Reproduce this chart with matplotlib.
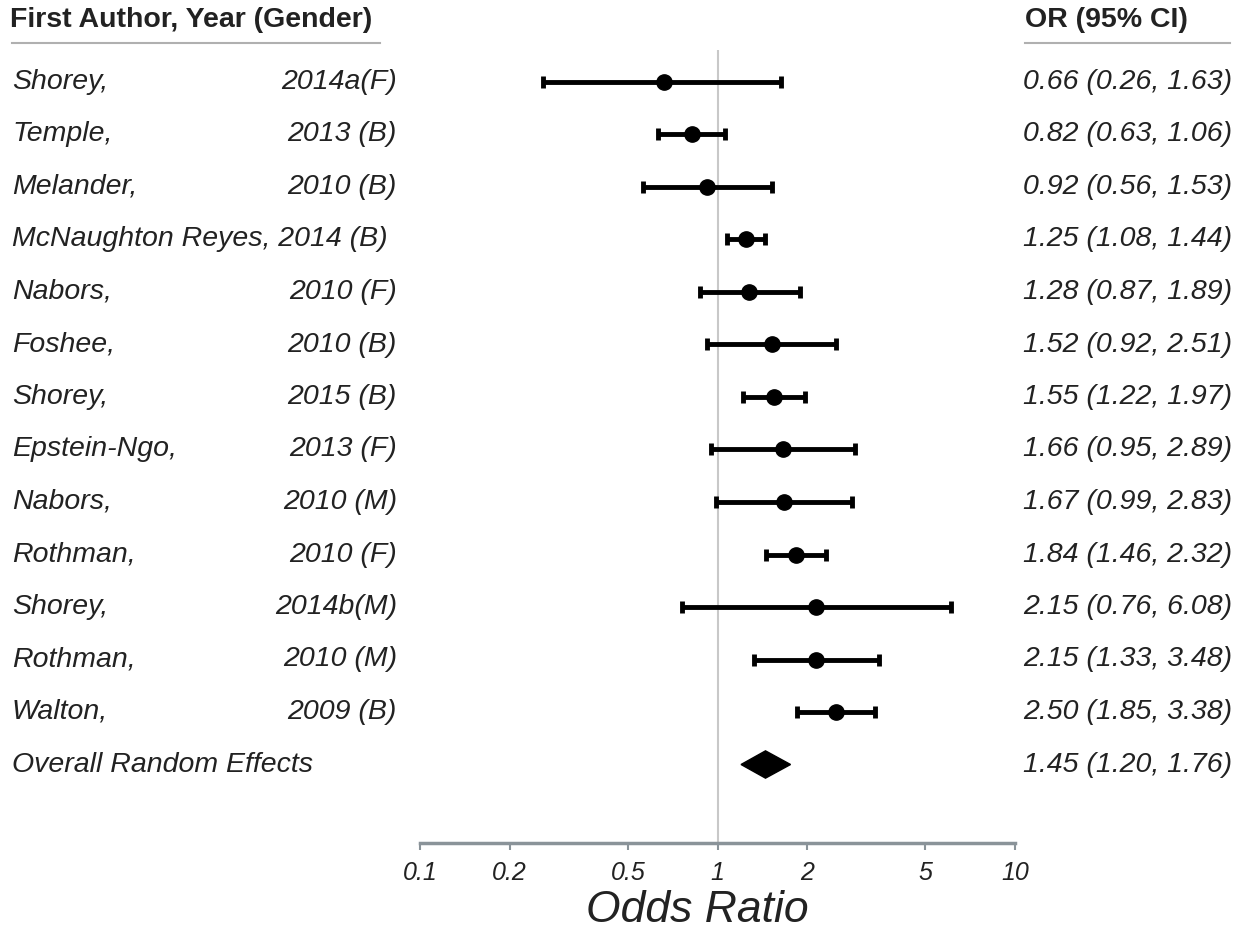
import numpy as np
import matplotlib
matplotlib.use("Agg")
import matplotlib.pyplot as plt
import matplotlib.transforms as mtransforms
from matplotlib.lines import Line2D

plt.rcParams['font.family'] = ['Liberation Sans', 'DejaVu Sans']

authors = ["Shorey,", "Temple,", "Melander,", "McNaughton Reyes, 2014 (B)", "Nabors,",
           "Foshee,", "Shorey,", "Epstein-Ngo,", "Nabors,", "Rothman,", "Shorey,",
           "Rothman,", "Walton,"]
years = ["2014a(F)", "2013 (B)", "2010 (B)", "", "2010 (F)", "2010 (B)", "2015 (B)",
         "2013 (F)", "2010 (M)", "2010 (F)", "2014b(M)", "2010 (M)", "2009 (B)"]
odds = [0.66, 0.82, 0.92, 1.25, 1.28, 1.52, 1.55, 1.66, 1.67, 1.84, 2.15, 2.15, 2.50]
lower = [0.26, 0.63, 0.56, 1.08, 0.87, 0.92, 1.22, 0.95, 0.99, 1.46, 0.76, 1.33, 1.85]
upper = [1.63, 1.06, 1.53, 1.44, 1.89, 2.51, 1.97, 2.89, 2.83, 2.32, 6.08, 3.48, 3.38]

overall_label = "Overall Random Effects"
overall = 1.45
overall_lo = 1.20
overall_hi = 1.76

xticks = [0.1, 0.2, 0.5, 1, 2, 5, 10]
xticklabels = ["0.1", "0.2", "0.5", "1", "2", "5", "10"]

fig = plt.figure(figsize=(12.49, 9.40), dpi=100)
ax = fig.add_axes([420/1249, 1 - 843/940, 595/1249, (843 - 50)/940])

rows = np.arange(len(odds))
odds = np.array(odds)
lower = np.array(lower)
upper = np.array(upper)

ax.axvline(1, color='#c8c8c8', lw=1.5, zorder=0)
ax.errorbar(odds, rows, xerr=[odds - lower, upper - odds], fmt='o', color='black',
            ms=11, lw=3.5, capsize=4, capthick=3.5, zorder=3)

r = len(odds)
ax.fill([overall_lo, overall, overall_hi, overall], [r, r - 0.26, r, r + 0.26],
        color='black', zorder=3)

ax.set_xscale('log')
ax.set_xlim(0.1, 10)
px = 52.5
ax.set_ylim((843 - 82) / px, (50 - 82) / px)
ax.set_xticks(xticks)
ax.set_xticklabels(xticklabels, fontsize=18, style='italic', color='#222222')
ax.xaxis.set_minor_locator(matplotlib.ticker.NullLocator())
ax.set_yticks([])
for s in ['top', 'right', 'left']:
    ax.spines[s].set_visible(False)
ax.spines['bottom'].set_color('#8a9399')
ax.spines['bottom'].set_linewidth(2.5)
ax.tick_params(axis='x', length=5, width=1.5, color='#8a9399', pad=8)
fig.text(697/1249, 1 - 910/940, "Odds Ratio", fontsize=32, style='italic',
         color='#222222', ha='center', va='center')

trans = mtransforms.blended_transform_factory(fig.transFigure, ax.transData)
fs = 20.5
for i in range(len(odds)):
    ax.text(12/1249, i, authors[i], transform=trans, fontsize=fs, style='italic',
            ha='left', va='center', color='#222222')
    if years[i]:
        ax.text(397/1249, i, years[i], transform=trans, fontsize=fs, style='italic',
                ha='right', va='center', color='#222222')
    ax.text(1232/1249, i, "%.2f (%.2f, %.2f)" % (odds[i], lower[i], upper[i]),
            transform=trans, fontsize=fs, style='italic', ha='right', va='center',
            color='#222222')
ax.text(12/1249, r, overall_label, transform=trans, fontsize=fs, style='italic',
        ha='left', va='center', color='#222222')
ax.text(1232/1249, r, "%.2f (%.2f, %.2f)" % (overall, overall_lo, overall_hi),
        transform=trans, fontsize=fs, style='italic', ha='right', va='center',
        color='#222222')

fig.text(10/1249, 1 - 20/940, "First Author, Year (Gender)", fontsize=20.5,
         fontweight='bold', ha='left', va='center', color='#222222')
fig.text(1025/1249, 1 - 20/940, "OR (95% CI)", fontsize=20.5,
         fontweight='bold', ha='left', va='center', color='#222222')
fig.add_artist(Line2D([12/1249, 380/1249], [1 - 43/940, 1 - 43/940],
                      color='#b0b0b0', lw=1.5))
fig.add_artist(Line2D([1025/1249, 1230/1249], [1 - 43/940, 1 - 43/940],
                      color='#b0b0b0', lw=1.5))

fig.savefig("out.png", dpi=100)
